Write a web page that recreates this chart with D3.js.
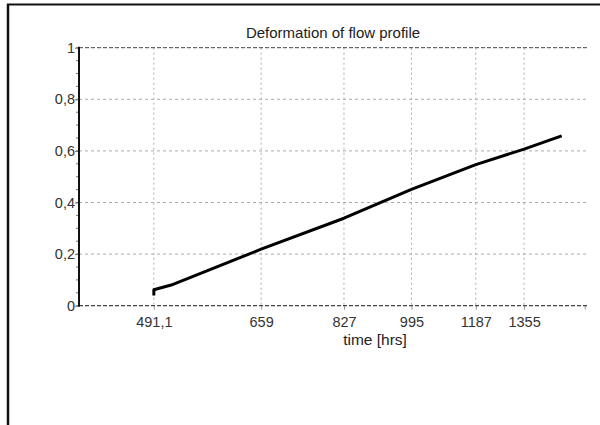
<!DOCTYPE html>
<html>
<head>
<meta charset="utf-8">
<script src="https://cdn.jsdelivr.net/npm/d3@7"></script>
<style>
  html, body { margin: 0; padding: 0; background: #fff; }
  svg { display: block; font-family: "Liberation Sans", Arial, sans-serif; }
</style>
</head>
<body>
<svg id="chart" width="600" height="425"></svg>
<script>
// ---- data ----
const title = "Deformation of flow profile";
const xLabel = "time [hrs]";
const times  = [491.1, 491.1, 515, 659, 827, 995, 1187, 1355, 1502];
const values = [0.04, 0.062, 0.08, 0.219, 0.339, 0.451, 0.547, 0.607, 0.658];
const xTicks = [491.1, 659, 827, 995, 1187, 1355];
const xTickLabels = ["491,1", "659", "827", "995", "1187", "1355"];
const xEndTick = [1600];
const yTicks = [0, 0.2, 0.4, 0.6, 0.8, 1];
const yTickLabels = ["0", "0,2", "0,4", "0,6", "0,8", "1"];
const yMinorTicks = d3.range(0, 1.0001, 0.05);
const xDomain = [400, 1610];
const yDomain = [0, 1];

// ---- layout ----
const svg = d3.select("#chart");
const pLeft = 79, pRight = 587, pTop = 47.7, pBottom = 305.7;

const x = d3.scaleLog().domain(xDomain).range([pLeft, pRight]);
const y = d3.scaleLinear().domain(yDomain).range([pBottom, pTop]);

// outer frame (top + left)
svg.append("line").attr("x1", 7).attr("x2", 600).attr("y1", 4.5).attr("y2", 4.5)
  .attr("stroke", "#111").attr("stroke-width", 2);
svg.append("line").attr("x1", 8).attr("x2", 8).attr("y1", 4).attr("y2", 425)
  .attr("stroke", "#111").attr("stroke-width", 2.5);

// title
svg.append("text").attr("x", 333).attr("y", 38).attr("text-anchor", "middle")
  .attr("font-size", 15).attr("fill", "#222").text(title);

// horizontal gridlines
svg.append("g").selectAll("line").data(yTicks.filter(d => d > 0 && d < 1)).join("line")
  .attr("x1", pLeft).attr("x2", pRight)
  .attr("y1", d => y(d)).attr("y2", d => y(d))
  .attr("stroke", "#aaa").attr("stroke-width", 1).attr("stroke-dasharray", "3,3");

// vertical gridlines
svg.append("g").selectAll("line").data(xTicks).join("line")
  .attr("x1", d => x(d)).attr("x2", d => x(d))
  .attr("y1", pTop).attr("y2", pBottom)
  .attr("stroke", "#aaa").attr("stroke-width", 1).attr("stroke-dasharray", "2,3");

// top boundary (dashed, dark)
svg.append("line").attr("x1", pLeft).attr("x2", pRight).attr("y1", y(1)).attr("y2", y(1))
  .attr("stroke", "#444").attr("stroke-width", 1).attr("stroke-dasharray", "4,2");

// x axis (dashed, dark)
const xAxis = d3.axisBottom(x).tickValues(xTicks.concat(xEndTick))
  .tickSize(4).tickFormat((d, i) => i < xTickLabels.length ? xTickLabels[i] : "");
const gx = svg.append("g").attr("transform", `translate(0,${pBottom})`).call(xAxis);
gx.select(".domain").remove();
gx.selectAll(".tick line").attr("stroke", "#999");
gx.selectAll(".tick text").attr("font-size", 14.5).attr("fill", "#333")
  .attr("font-family", "Liberation Sans, Arial, sans-serif").attr("dy", "1.0em");
svg.append("line").attr("x1", pLeft).attr("x2", pRight).attr("y1", pBottom).attr("y2", pBottom)
  .attr("stroke", "#444").attr("stroke-width", 1.2).attr("stroke-dasharray", "4,2");

// x label
svg.append("text").attr("x", 375).attr("y", 345).attr("text-anchor", "middle")
  .attr("font-size", 15.5).attr("fill", "#222").text(xLabel);

// y minor ticks
svg.append("g").selectAll("line").data(yMinorTicks).join("line")
  .attr("x1", pLeft - 3).attr("x2", pLeft)
  .attr("y1", d => y(d)).attr("y2", d => y(d))
  .attr("stroke", "#777").attr("stroke-width", 1);

// y axis
const yAxis = d3.axisLeft(y).tickValues(yTicks).tickSize(4)
  .tickFormat((d, i) => yTickLabels[i]);
const gy = svg.append("g").attr("transform", `translate(${pLeft},0)`).call(yAxis);
gy.select(".domain").remove();
gy.selectAll(".tick line").attr("stroke", "#777");
gy.selectAll(".tick text").attr("font-size", 14.5).attr("fill", "#333")
  .attr("font-family", "Liberation Sans, Arial, sans-serif").attr("x", -4);
svg.append("line").attr("x1", pLeft).attr("x2", pLeft).attr("y1", pTop - 1).attr("y2", pBottom + 1)
  .attr("stroke", "#111").attr("stroke-width", 2);

// data line
const pts = times.map((t, i) => [t, values[i]]);
svg.append("path").datum(pts)
  .attr("fill", "none").attr("stroke", "#000").attr("stroke-width", 3)
  .attr("stroke-linejoin", "round")
  .attr("d", d3.line().x(d => x(d[0])).y(d => y(d[1])));
</script>
</body>
</html>
